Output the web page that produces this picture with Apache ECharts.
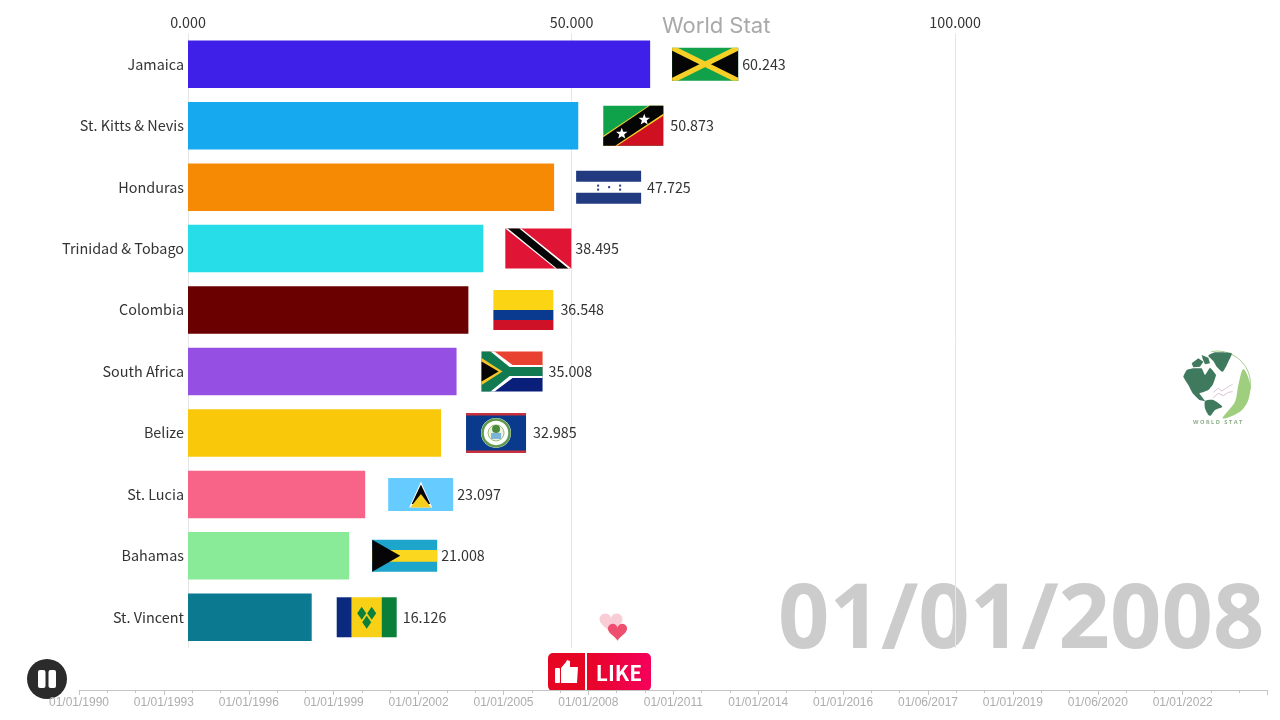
<!DOCTYPE html>
<html><head><meta charset="utf-8">
<style>html,body{margin:0;padding:0;background:#fff}#c{width:1280px;height:720px}</style>
<script src="https://cdn.jsdelivr.net/npm/echarts@6/dist/echarts.min.js"></script>
</head><body><div id="c"></div>
<script>
const countries = ['Jamaica','St. Kitts & Nevis','Honduras','Trinidad & Tobago','Colombia','South Africa','Belize','St. Lucia','Bahamas','St. Vincent'];
const values = [60.243,50.873,47.725,38.495,36.548,35.008,32.985,23.097,21.008,16.126];
const barColors = ['#3f20e8','#17a9f0','#f68a05','#27dde8','#6b0000','#964fe3','#f9c80a','#f76488','#89eb98','#0b798f'];
const timeLabels = ['01/01/1990','01/01/1993','01/01/1996','01/01/1999','01/01/2002','01/01/2005','01/01/2008','01/01/2011','01/01/2014','01/01/2016','01/06/2017','01/01/2019','01/06/2020','01/01/2022',''];
const dateText = '01/01/2008';

const FONT = '"Noto Sans CJK SC"';
function R(x,y,w,h,f){return {type:'rect',shape:{x,y,width:w,height:h},style:{fill:f}};}
function P(pts,f){return {type:'polygon',shape:{points:pts},style:{fill:f}};}
function C(x,y,r,f,s,lw){return {type:'circle',shape:{cx:x,cy:y,r},style:{fill:f,stroke:s||null,lineWidth:lw||0}};}
function star(cx,cy,r,f){const p=[];for(let i=0;i<10;i++){const a=-Math.PI/2+i*Math.PI/5,q=i%2?r*0.42:r;p.push([cx+q*Math.cos(a),cy+q*Math.sin(a)]);}return P(p,f);}
function dia(cx,cy,rx,ry,f){return P([[cx,cy-ry],[cx+rx,cy],[cx,cy+ry],[cx-rx,cy]],f);}
function heartPts(cx,cy,s){const p=[];for(let i=0;i<48;i++){const t=i/48*2*Math.PI,x=16*Math.pow(Math.sin(t),3),y=13*Math.cos(t)-5*Math.cos(2*t)-2*Math.cos(3*t)-Math.cos(4*t);p.push([cx+x*s,cy-y*s]);}return p;}

const flags = [
 {gap:22,w:66,h:33,lg:4,draw:(w,h)=>[R(0,0,w,h,'#12a14b'),P([[0,0],[w/2,h/2],[0,h]],'#050505'),P([[w,0],[w/2,h/2],[w,h]],'#050505'),
   P([[0,0],[5.5,0],[w,h-3],[w,h],[w-5.5,h],[0,3]],'#f6d026'),P([[w,0],[w-5.5,0],[0,h-3],[0,h],[5.5,h],[w,3]],'#f6d026')]},
 {gap:25,w:60,h:40,lg:7,draw:(w,h)=>[R(0,0,w,h,'#10a24b'),P([[w,0],[w,h],[0,h]],'#cf1020'),
   P([[0,h-10],[45,0],[w,0],[w,10],[14,h],[0,h]],'#f4d02a'),P([[0,h-8.5],[46.5,0],[w,0],[w,8],[12,h],[0,h]],'#050505'),
   star(18.5,28,6,'#fff'),star(41,14,6,'#fff')]},
 {gap:22,w:65,h:33,lg:6,draw:(w,h)=>[R(0,0,w,h,'#fff'),R(0,0,w,11,'#223a80'),R(0,22,w,11,'#223a80'),
   R(21,14,2,2,'#223a80'),R(21,18,2,2,'#223a80'),R(32,15.5,2,2,'#223a80'),R(43,14,2,2,'#223a80'),R(43,18,2,2,'#223a80')]},
 {gap:22,w:66,h:40,lg:4,draw:(w,h)=>[R(0,0,w,h,'#e01535'),P([[0,0],[16,0],[66,h],[50,h]],'#fff'),P([[2.5,0],[14,0],[63,h],[51.5,h]],'#050505')]},
 {gap:25,w:60,h:40,lg:7,draw:(w,h)=>[R(0,0,w,20,'#fbd414'),R(0,20,w,10,'#0a3a90'),R(0,30,w,10,'#ce1126')]},
 {gap:25,w:61,h:40,lg:6,draw:(w,h)=>[R(0,0,w,20,'#e8412f'),R(0,20,w,20,'#0a1f7a'),
   P([[0,0],[13,0],[31,13.5],[w,13.5],[w,26.5],[31,26.5],[13,40],[0,40]],'#fff'),
   P([[0,0],[9,0],[28,15.5],[w,15.5],[w,24.5],[28,24.5],[9,40],[0,40]],'#127a50'),
   P([[0,6.5],[21,20],[0,33.5]],'#f6c52a'),P([[0,10],[17,20],[0,30]],'#050505')]},
 {gap:25,w:60,h:40,lg:7,draw:(w,h)=>[R(0,0,w,h,'#0a3a8c'),R(0,0,w,2.5,'#c8323c'),R(0,h-2.5,w,2.5,'#c8323c'),
   C(30,20,15,'#fff'),C(30,20,13.5,'#fff','#5f9a4c',2.5),C(30,20,8,'#f0f0e0','#9abf7a',1),R(25,20,10,6,'#7ab4d8'),C(30,16,4,'#4c8a3c')]},
 {gap:23,w:65,h:33,lg:4,draw:(w,h)=>[R(0,0,w,h,'#66ccff'),P([[32.7,3.5],[44,29.5],[21,29.5]],'#fff'),P([[32.7,6.5],[42,26],[23.5,26]],'#050505'),P([[32.7,16],[43,29.5],[22,29.5]],'#f6cf1e')]},
 {gap:23,w:65,h:32,lg:4,draw:(w,h)=>[R(0,0,w,h,'#1ea5cc'),R(0,10.2,w,11.6,'#fbd71f'),P([[0,0],[28,16],[0,32]],'#050505')]},
 {gap:25,w:60,h:40,lg:6,draw:(w,h)=>[R(0,0,15,h,'#0a2a80'),R(15,0,30,h,'#f8d016'),R(45,0,15,h,'#0a7f3a'),
   dia(25,16,4.5,6.5,'#0a8038'),dia(35,16,4.5,6.5,'#0a8038'),dia(30,25,4.5,6.5,'#0a8038')]}
];

const globe = [
 {type:'arc',shape:{cx:172,cy:148,r:100,startAngle:-1.75,endAngle:0.95,clockwise:true},style:{fill:null,stroke:'#a8cf90',lineWidth:3}},
 {type:'polygon',shape:{points:[[145,62],[165,52],[215,55],[205,80],[188,110],[170,95],[160,78]],smooth:0.2},style:{fill:'#3f7a5e'}},
 {type:'polygon',shape:{points:[[95,85],[115,70],[130,80],[120,95],[100,97]]},style:{fill:'#3f7a5e'}},
 {type:'polygon',shape:{points:[[125,60],[145,68],[150,85],[135,88],[128,72]]},style:{fill:'#3f7a5e'}},
 {type:'polygon',shape:{points:[[70,125],[80,105],[100,100],[125,100],[135,120],[150,98],[168,120],[158,150],[145,165],[128,172],[118,175],[135,198],[118,195],[98,175],[85,150]],smooth:0.1},style:{fill:'#3f7a5e'}},
 {type:'polygon',shape:{points:[[135,198],[160,195],[187,215],[165,225],[152,242],[145,240],[135,220]],smooth:0.2},style:{fill:'#3f7a5e'}},
 {type:'polygon',shape:{points:[[188,250],[225,200],[235,150],[250,102],[270,145],[265,195],[240,230]],smooth:0.3},style:{fill:'#9fce7f'}},
 {type:'polyline',shape:{points:[[160,172],[175,160],[185,168],[205,155],[218,148]]},style:{fill:null,stroke:'#c9a9c9',lineWidth:2}},
 {type:'polyline',shape:{points:[[160,188],[175,175],[190,182],[205,172],[218,170]]},style:{fill:null,stroke:'#c9a0b8',lineWidth:2}},
 {type:'text',x:173,y:262,style:{text:'W O R L D   S T A T',align:'center',verticalAlign:'middle',font:'bold 17px "Noto Sans"',fill:'#8fae8c'}}
];

const chart = echarts.init(document.getElementById('c'),null,{renderer:'canvas'});
chart.setOption({
 animation:false,backgroundColor:'#fff',
 grid:[{left:188,top:33.5,width:1074,height:614.5},{left:79,top:689,width:1188.6,height:1}],
 xAxis:[
  {gridIndex:0,type:'value',position:'top',min:0,max:140,interval:50,axisLine:{show:false},axisTick:{show:false},
   axisLabel:{margin:4,fontSize:14.3,color:'#333',fontFamily:FONT,formatter:v=>v.toFixed(3),showMaxLabel:false},
   splitLine:{show:true,showMaxLine:false,lineStyle:{color:'#e6e6e6',width:1}}},
  {gridIndex:1,type:'value',position:'bottom',min:0,max:14,interval:1,
   axisLine:{lineStyle:{color:'#c4c4c4',width:1}},axisTick:{length:5,lineStyle:{color:'#c4c4c4'}},
   minorTick:{show:true,splitNumber:3,length:3,lineStyle:{color:'#c4c4c4'}},splitLine:{show:false},
   axisLabel:{margin:7,fontSize:12,color:'#adadad',fontFamily:'"Liberation Sans"',formatter:v=>timeLabels[v]||'',showMaxLabel:true,showMinLabel:true,hideOverlap:false}}
 ],
 yAxis:[
  {gridIndex:0,type:'category',inverse:true,data:countries,axisLine:{show:false},axisTick:{show:false},
   axisLabel:{margin:4,fontSize:14.4,color:'#333',fontFamily:FONT}},
  {gridIndex:1,type:'value',show:false}
 ],
 series:[
  {type:'bar',xAxisIndex:0,yAxisIndex:0,barWidth:47.5,data:values.map((v,i)=>({value:v,itemStyle:{color:barColors[i]}}))},
  {type:'custom',xAxisIndex:0,yAxisIndex:0,clip:false,data:values.map((v,i)=>[v,i]),
   encode:{x:0,y:1},
   renderItem:(params,api)=>{
     const i=params.dataIndex,f=flags[i],c=api.coord([api.value(0),i]);
     const fx=c[0]+f.gap,fy=c[1]-f.h/2;
     return {type:'group',children:[
       {type:'group',x:fx,y:fy,children:f.draw(f.w,f.h)},
       {type:'text',style:{text:values[i].toFixed(3),x:fx+f.w+f.lg,y:c[1],verticalAlign:'middle',font:'14.3px '+FONT,fill:'#333'}}
     ]};
   }}
 ],
 graphic:[
  {type:'text',x:662,y:26,style:{text:'World Stat',verticalAlign:'middle',font:'400 22px Inter',fill:'#a9a9a9'}},
  {type:'text',x:778,y:622,style:{text:dateText,verticalAlign:'middle',font:'bold 90px "Noto Sans"',fill:'#cccccc'}},
  {type:'group',x:1160,y:335,scaleX:1/3,scaleY:1/3,children:globe},
  {type:'circle',shape:{cx:47,cy:679,r:20},style:{fill:'#2b2b2b'}},
  {type:'rect',shape:{x:38,y:670,width:7.5,height:18,r:2},style:{fill:'#fff'}},
  {type:'rect',shape:{x:48.5,y:670,width:7.5,height:18,r:2},style:{fill:'#fff'}},
  {type:'polygon',shape:{points:heartPts(611,622,0.72)},style:{fill:'#f8cdd6'}},
  {type:'polygon',shape:{points:heartPts(617.5,631,0.6)},style:{fill:'#ef4f6f'}},
  {type:'rect',shape:{x:548,y:653,width:37,height:38,r:[5,0,0,5]},style:{fill:'#e60522'}},
  {type:'rect',shape:{x:587,y:653,width:64,height:38,r:[0,5,5,0]},style:{fill:new echarts.graphic.LinearGradient(0,0,1,0,[{offset:0,color:'#e60526'},{offset:1,color:'#f5005c'}])}},
  {type:'rect',shape:{x:555,y:668,width:5,height:15,r:1},style:{fill:'#fff'}},
  {type:'polygon',shape:{points:[[561,668],[566,662],[567,660],[570,661],[570,667],[578,667],[577,683],[561,683]]},style:{fill:'#fff'}},
  {type:'text',x:619,y:673,style:{text:'LIKE',align:'center',verticalAlign:'middle',font:'bold 21px '+FONT,fill:'#fff'}}
 ]
});
</script></body></html>
